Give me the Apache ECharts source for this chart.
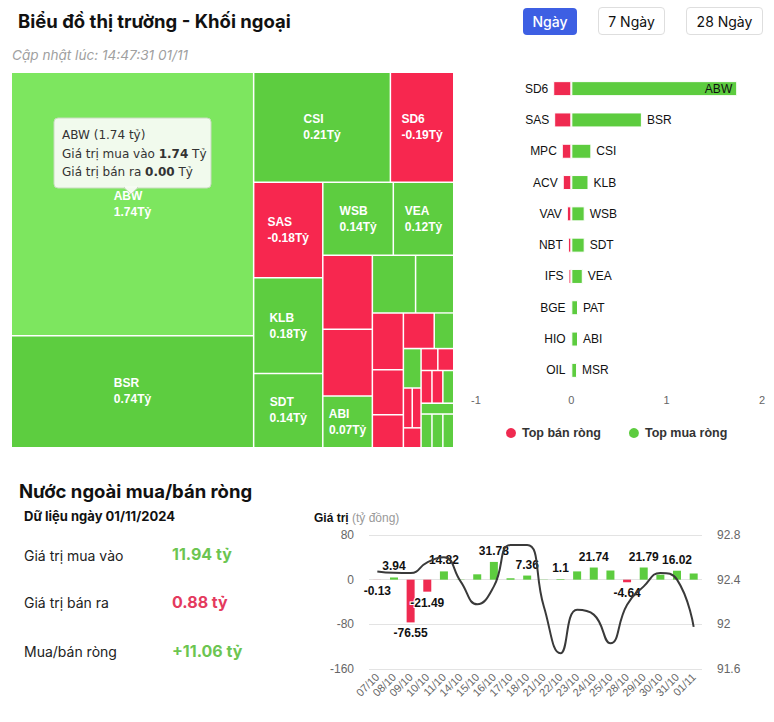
<!DOCTYPE html>
<html><head><meta charset="utf-8">
<script src="https://cdn.jsdelivr.net/npm/echarts@6/dist/echarts.min.js"></script>
<style>
html,body{margin:0;padding:0;background:#fff;width:774px;height:722px;overflow:hidden;font-family:Inter,Roboto,sans-serif;color:#111;}
#chart{position:absolute;left:0;top:0;width:774px;height:722px;}
.abs{position:absolute;white-space:nowrap;}
.h{font-weight:700;font-size:18.5px;line-height:24px;color:#111;}
.btn{position:absolute;box-sizing:border-box;border-radius:4px;font-size:14px;display:flex;align-items:center;justify-content:center;}
</style></head>
<body>
<div id="chart"></div>
<div class="abs h" style="left:18px;top:9px;">Biểu đồ thị trường - Khối ngoại</div>
<div class="abs" style="left:12px;top:47px;font-size:13.6px;line-height:16px;font-style:italic;color:#a0a0a0;">Cập nhật lúc: 14:47:31 01/11</div>
<div class="btn" style="left:523px;top:8px;width:54px;height:27px;background:#3d5fe3;color:#fff;font-weight:500;">Ngày</div>
<div class="btn" style="left:598px;top:7px;width:67px;height:28px;border:1px solid #dedede;color:#111;">7 Ngày</div>
<div class="btn" style="left:686px;top:7px;width:77px;height:28px;border:1px solid #dedede;color:#111;">28 Ngày</div>
<div class="abs h" style="left:19px;top:479px;">Nước ngoài mua/bán ròng</div>
<div class="abs" style="left:24px;top:508px;font-size:13px;line-height:16px;font-weight:700;color:#111;">Dữ liệu ngày 01/11/2024</div>
<div class="abs" style="left:24px;top:546px;font-size:14px;line-height:20px;color:#222;">Giá trị mua vào</div>
<div class="abs" style="left:172px;top:543px;font-size:16px;line-height:22px;font-weight:700;color:#6cc551;">11.94 tỷ</div>
<div class="abs" style="left:24px;top:593px;font-size:14px;line-height:20px;color:#222;">Giá trị bán ra</div>
<div class="abs" style="left:172px;top:591px;font-size:16px;line-height:22px;font-weight:700;color:#e43a5e;">0.88 tỷ</div>
<div class="abs" style="left:24px;top:642px;font-size:14px;line-height:20px;color:#222;">Mua/bán ròng</div>
<div class="abs" style="left:172px;top:640px;font-size:16px;line-height:22px;font-weight:700;color:#6cc551;">+11.06 tỷ</div>
<script>
// ---- Treemap data (cell size ~ traded value, net = label value) ----
const tmNames = ['ABW','BSR','CSI','SD6','SAS','KLB','SDT','WSB','VEA','MPC','ACV','ABI','PAT','MSR',
  'VAV','NBT','IFS','','','','','','','BGE','HIO','OIL','','','','','',''];
const tmSize = [1.74,0.74,0.41,0.19,0.18,0.18,0.14,0.14,0.12,0.10,0.09,0.07,0.068,0.06,
  0.048,0.038,0.028,0.030,0.019,0.019,0.0096,0.0096,0.0096,0.010,0.0095,0.0097,0.0097,0.0097,0.0097,0.010,0.010,0.010];
const tmNet = [1.74,0.74,0.21,-0.19,-0.18,0.18,0.14,0.14,0.12,-0.10,-0.09,0.07,0.07,0.06,
  -0.048,-0.038,-0.028,-0.030,0.019,0.019,-0.0096,-0.0096,-0.0096,-0.010,-0.0095,-0.0097,-0.0097,0.0097,0.0097,0.010,0.010,0.010];
// how many consecutive cells form each strip of the squarified layout
const tmStrips = [2,2,3,2,3,2,3,2,4,2,4,3];
const hoveredName = 'ABW';
const tipBuy = 1.74, tipSell = 0.00;

// ---- Top bar chart ----
const sellNames = ['SD6','SAS','MPC','ACV','VAV','NBT','IFS','BGE','HIO','OIL'];
const sellValues = [-0.19,-0.18,-0.10,-0.09,-0.047,-0.036,-0.03,-0.005,-0.005,-0.006];
const buyNames = ['ABW','BSR','CSI','KLB','WSB','SDT','VEA','PAT','ABI','MSR'];
const buyValues = [1.74,0.74,0.21,0.18,0.14,0.14,0.12,0.07,0.07,0.06];

// ---- Bottom chart ----
const days = ['07/10','08/10','09/10','10/10','11/10','14/10','15/10','16/10','17/10','18/10',
  '21/10','22/10','23/10','24/10','25/10','28/10','29/10','30/10','31/10','01/11'];
const netValues = [-0.13,3.94,-76.55,-21.49,14.82,0.5,9.6,31.78,2.4,7.36,
  0.4,1.1,14.8,21.74,16.4,-4.64,21.79,8.9,16.02,11.06];
const indexValues = [92.474,92.462,92.46,92.555,92.6,92.385,92.18,92.34,92.71,92.71,
  92.16,91.74,92.13,92.087,91.83,92.176,92.34,92.46,92.4,91.977];
const hiddenLabelDays = ['14/10','15/10','17/10','21/10','23/10','25/10','30/10','01/11'];

const GREEN = '#5dcd40', GREEN_HOVER = '#7de65f', RED = '#f7274f';
const BGREEN = '#5dcc3f', BRED = '#ef2a50';
const F = 'Liberation Sans, Arial, sans-serif';

const chart = echarts.init(document.getElementById('chart'), null, {renderer: 'svg'});

const leaves = tmNames.map((n, i) => ({
  name: n, value: tmSize[i], net: tmNet[i],
  itemStyle: {color: n === hoveredName ? GREEN_HOVER : (tmNet[i] >= 0 ? GREEN : RED)}
}));
const sumOf = arr => arr.reduce((s, d) => s + d.value, 0);
function buildLevel(start, step) {
  const n = tmStrips[step];
  const items = leaves.slice(start, start + n);
  const out = [];
  const flat = step === 0 || step % 2 === 1 || step === tmStrips.length - 1;
  if (flat) out.push(...items);
  else out.push({name: '', value: sumOf(items), children: items});
  if (step + 1 < tmStrips.length) {
    const rest = buildLevel(start + n, step + 1);
    out.push({name: '', value: sumOf(rest), children: rest});
  }
  return out;
}
const tmData = buildLevel(0, 0);

// text measuring for treemap labels (centred block, left-aligned lines)
const mctx = document.createElement('canvas').getContext('2d');
mctx.font = 'bold 12px "Liberation Sans", Arial, sans-serif';
const tw = s => mctx.measureText(s).width;
const LH = 16;
const tmRich = {a: {color: '#fff', fontFamily: F, fontWeight: 'bold', fontSize: 12, lineHeight: LH}};
for (let i = 1; i <= 80; i++) tmRich['w' + i] = {width: i, fontSize: 12, lineHeight: LH};
for (let i = 1; i <= 300; i++) tmRich['h' + i] = {lineHeight: i, fontSize: 1};
function tmLabel(p) {
  if (!p.data || p.data.net === undefined || !p.name) return '';
  const v = p.data.net.toFixed(2) + 'Tỷ';
  const wN = tw(p.name), wV = tw(v), maxW = Math.max(wN, wV);
  let lay = null;
  try { lay = chart.getModel().getSeriesByIndex(0).getData().getItemLayout(p.dataIndex); } catch (e) { lay = null; }
  let top = '';
  if (lay) {
    if (maxW + 8 > lay.width || 2 * LH + 6 > lay.height) return '';
    const pad = Math.round((lay.height - 2 * LH) / 2);
    if (pad >= 1) top = '{h' + Math.min(pad, 300) + '| }\n';
  } else if (p.value < 0.07) return '';
  const d1 = Math.round(maxW - wN), d2 = Math.round(maxW - wV);
  return top + '{a|' + p.name + '}' + (d1 > 0 ? '{w' + d1 + '| }' : '') + '\n' +
    '{a|' + v + '}' + (d2 > 0 ? '{w' + d2 + '| }' : '');
}

const tipLines = '{t|' + tmNames[0] + ' (' + tmNet[0].toFixed(2) + ' tỷ)}\n' +
  '{t|Giá trị mua vào }{b|' + tipBuy.toFixed(2) + '}{t| Tỷ}\n' +
  '{t|Giá trị bán ra }{b|' + tipSell.toFixed(2) + '}{t| Tỷ}';
const TIPBG = 'rgba(246,251,243,0.96)';

const option = {
  animation: false,
  textStyle: {fontFamily: F},
  grid: [
    {left: 476, top: 73, width: 286, height: 313},
    {left: 369, top: 535, width: 333, height: 134}
  ],
  legend: {
    data: ['Top bán ròng', 'Top mua ròng'], left: 499, top: 421, icon: 'circle',
    itemWidth: 12, itemHeight: 12, itemGap: 26,
    textStyle: {fontFamily: F, fontWeight: 'bold', fontSize: 12.5, color: '#333'}
  },
  xAxis: [
    {gridIndex: 0, type: 'value', min: -1, max: 2, interval: 1,
     splitLine: {show: false}, axisLine: {show: false}, axisTick: {show: false},
     axisLabel: {color: '#666', fontSize: 11, margin: 8}},
    {gridIndex: 1, type: 'category', data: days,
     axisLine: {show: false}, axisTick: {show: false},
     axisLabel: {rotate: 45, interval: 0, color: '#666', fontSize: 11, margin: 6}}
  ],
  yAxis: [
    {gridIndex: 0, type: 'category', data: sellNames, inverse: true, show: false},
    {gridIndex: 1, type: 'value', min: -160, max: 80, interval: 80,
     axisLine: {show: false}, axisTick: {show: false},
     splitLine: {lineStyle: {color: '#e3e3e3'}},
     axisLabel: {color: '#666', fontSize: 12, margin: 15}},
    {gridIndex: 1, type: 'value', position: 'right', min: 91.6, max: 92.8, interval: 0.4,
     axisLine: {show: false}, axisTick: {show: false}, splitLine: {show: false},
     axisLabel: {color: '#666', fontSize: 12, margin: 15}}
  ],
  series: [
    {
      type: 'treemap', left: 12, top: 73, width: 441, height: 374,
      roam: false, nodeClick: false, breadcrumb: {show: false}, sort: false,
      squareRatio: 2.4, visibleMin: 1,
      itemStyle: {gapWidth: 1.5, borderWidth: 0, borderColor: '#fff'},
      label: {
        show: true, position: 'inside', padding: 0, overflow: 'none',
        formatter: tmLabel, rich: tmRich
      },
      upperLabel: {show: false},
      data: tmData
    },
    {
      name: 'Top bán ròng', type: 'bar', xAxisIndex: 0, yAxisIndex: 0,
      data: sellValues, barWidth: 15, barGap: '-100%',
      itemStyle: {color: BRED, borderColor: '#fff', borderWidth: 1},
      label: {show: true, position: 'left', distance: 5, color: '#111', fontSize: 12, fontFamily: F,
        formatter: p => sellNames[p.dataIndex]}
    },
    {
      name: 'Top mua ròng', type: 'bar', xAxisIndex: 0, yAxisIndex: 0,
      data: buyValues.map(v => v > 1.5 ? {value: v, label: {position: 'insideRight'}} : v),
      barWidth: 15, barGap: '-100%',
      itemStyle: {color: BGREEN, borderColor: '#fff', borderWidth: 1},
      label: {show: true, position: 'right', distance: 5, color: '#111', fontSize: 12, fontFamily: F,
        formatter: p => buyNames[p.dataIndex]}
    },
    {
      name: 'Giá trị', type: 'bar', xAxisIndex: 1, yAxisIndex: 1, barWidth: 8,
      data: netValues.map(v => ({value: v, itemStyle: {color: v >= 0 ? BGREEN : BRED},
        label: {position: v >= 0 ? 'top' : 'bottom'}})),
      label: {show: true, distance: 5, color: '#111', fontWeight: 'bold', fontSize: 12, fontFamily: F,
        textBorderColor: '#fff', textBorderWidth: 2,
        formatter: p => hiddenLabelDays.indexOf(days[p.dataIndex]) >= 0 ? '' : String(p.value)}
    },
    {
      name: 'Chỉ số', type: 'line', xAxisIndex: 1, yAxisIndex: 2, smooth: 0.5,
      data: indexValues, showSymbol: false, z: 5,
      lineStyle: {color: '#3a3a3a', width: 2}
    }
  ],
  graphic: [
    {type: 'text', left: 314, top: 512, style: {
      text: '{b|Giá trị} {g|(tỷ đồng)}',
      rich: {b: {fontFamily: F, fontWeight: 'bold', fontSize: 12, fill: '#111'},
             g: {fontFamily: F, fontSize: 12, fill: '#999'}}}},
    {type: 'rect', z: 100, shape: {x: 54, y: 118, width: 157, height: 70, r: 4},
     style: {fill: TIPBG, stroke: '#c9dcc0', lineWidth: 1}},
    {type: 'polygon', z: 101, shape: {points: [[124, 187.5], [131, 194], [138, 187.5]]},
     style: {fill: TIPBG, stroke: '#c9dcc0', lineWidth: 1}},
    {type: 'rect', z: 102, shape: {x: 125, y: 186, width: 12, height: 2}, style: {fill: 'rgb(246,251,243)'}},
    {type: 'text', z: 103, x: 62, y: 126, style: {
      text: tipLines,
      rich: {t: {fontFamily: 'DejaVu Sans', fontSize: 12, fill: '#333', lineHeight: 18.5},
             b: {fontFamily: 'DejaVu Sans', fontSize: 12, fontWeight: 'bold', fill: '#333', lineHeight: 18.5}}}}
  ]
};
chart.setOption(option);
</script>
</body></html>
